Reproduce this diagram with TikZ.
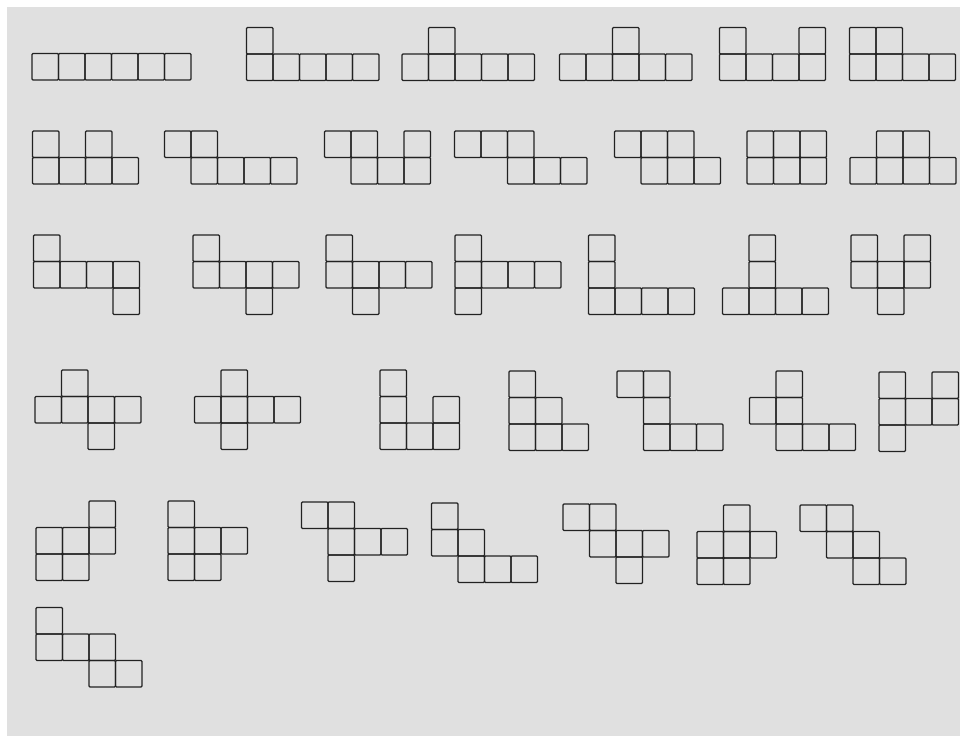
\documentclass[tikz,border=0pt]{standalone}
\usepackage{xcolor}
\usepackage{tikz}
\definecolor{paper}{HTML}{E0E0E0}
\definecolor{ink}{HTML}{222222}
\def\cw{26.5}
% one hexomino: left, top, list of col/row cells
\newcommand{\piece}[3]{%
  \begin{scope}[shift={(#1,#2)}]
    \foreach \c/\r in {#3} \draw[cell] (\c*\cw,\r*\cw) rectangle ++(\cw,\cw);
  \end{scope}}

\begin{document}
\begin{tikzpicture}[x=1pt,y=-1pt, cell/.style={draw=ink,line width=1.3pt,rounded corners=1pt}]
\fill[white] (0,0) rectangle (960,736);
\fill[paper] (7,7) rectangle (960,736);
\useasboundingbox (0,0) rectangle (960,736);
% row 1
\piece{32}{53.5}{0/0,1/0,2/0,3/0,4/0,5/0}
\piece{246.5}{27.5}{0/0,0/1,1/1,2/1,3/1,4/1}
\piece{402}{27.5}{1/0,0/1,1/1,2/1,3/1,4/1}
\piece{559.5}{27.5}{2/0,0/1,1/1,2/1,3/1,4/1}
\piece{719.5}{27.5}{0/0,3/0,0/1,1/1,2/1,3/1}
\piece{849.5}{27.5}{0/0,1/0,0/1,1/1,2/1,3/1}
% row 2
\piece{32.5}{131}{0/0,2/0,0/1,1/1,2/1,3/1}
\piece{164.5}{131}{0/0,1/0,1/1,2/1,3/1,4/1}
\piece{324.5}{131}{0/0,1/0,3/0,1/1,2/1,3/1}
\piece{454.5}{131}{0/0,1/0,2/0,2/1,3/1,4/1}
\piece{614.5}{131}{0/0,1/0,2/0,1/1,2/1,3/1}
\piece{747}{131}{0/0,1/0,2/0,0/1,1/1,2/1}
\piece{850}{131}{1/0,2/0,0/1,1/1,2/1,3/1}
% row 3
\piece{33.5}{235}{0/0,0/1,1/1,2/1,3/1,3/2}
\piece{193}{235}{0/0,0/1,1/1,2/1,3/1,2/2}
\piece{326}{235}{0/0,0/1,1/1,2/1,3/1,1/2}
\piece{455}{235}{0/0,0/1,1/1,2/1,3/1,0/2}
\piece{588.5}{235}{0/0,0/1,0/2,1/2,2/2,3/2}
\piece{722.5}{235}{1/0,1/1,0/2,1/2,2/2,3/2}
\piece{851}{235}{0/0,2/0,0/1,1/1,2/1,1/2}
% row 4
\piece{35}{370}{1/0,0/1,1/1,2/1,3/1,2/2}
\piece{194.5}{370}{1/0,0/1,1/1,2/1,3/1,1/2}
\piece{380}{370}{0/0,0/1,0/2,1/2,2/1,2/2}
\piece{509}{371}{0/0,0/1,1/1,0/2,1/2,2/2}
\piece{617}{371}{0/0,1/0,1/1,1/2,2/2,3/2}
\piece{749.5}{371}{1/0,0/1,1/1,1/2,2/2,3/2}
\piece{879}{372}{0/0,2/0,0/1,1/1,2/1,0/2}
% row 5
\piece{36}{501}{2/0,0/1,1/1,2/1,0/2,1/2}
\piece{168}{501}{0/0,0/1,1/1,2/1,0/2,1/2}
\piece{301.5}{502}{0/0,1/0,1/1,2/1,3/1,1/2}
\piece{431.5}{503}{0/0,0/1,1/1,1/2,2/2,3/2}
\piece{563}{504}{0/0,1/0,1/1,2/1,3/1,2/2}
\piece{697}{505}{1/0,0/1,1/1,2/1,0/2,1/2}
\piece{800}{505}{0/0,1/0,1/1,2/1,2/2,3/2}
% row 6
\piece{36}{607.5}{0/0,0/1,1/1,2/1,2/2,3/2}
\end{tikzpicture}
\end{document}
